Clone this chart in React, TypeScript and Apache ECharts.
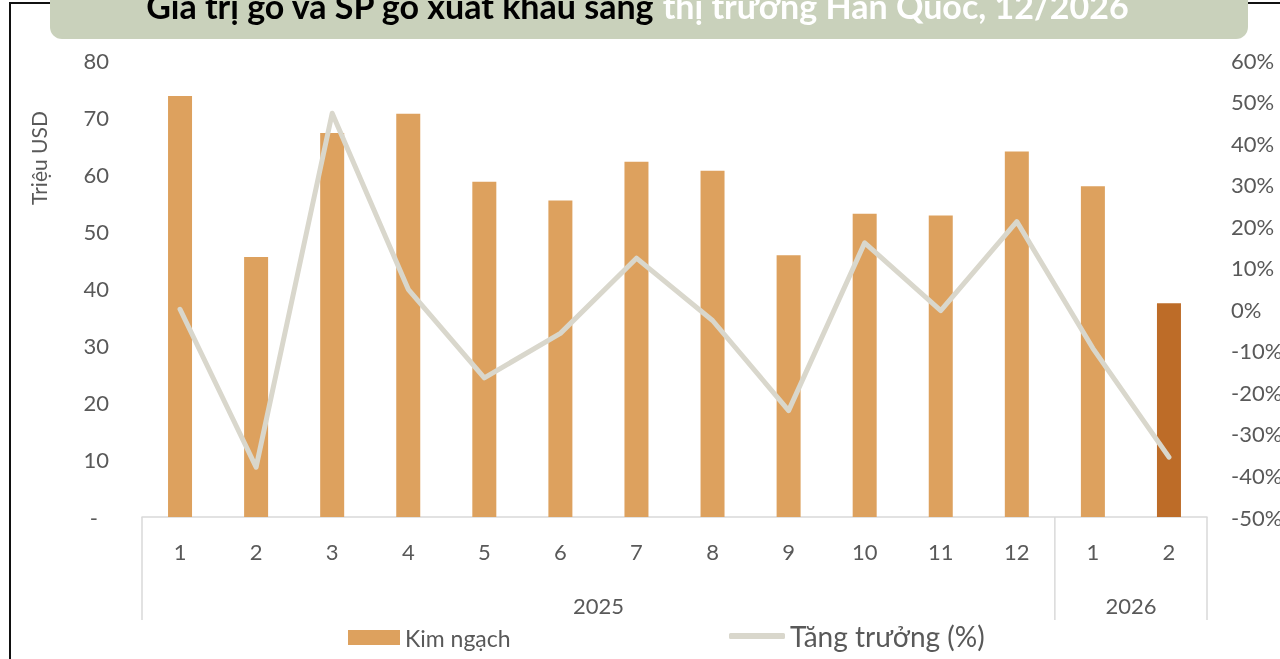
import React, { useEffect, useRef } from "react";
import * as echarts from "echarts";

const months = ["1", "2", "3", "4", "5", "6", "7", "8", "9", "10", "11", "12", "1", "2"];
const years = ["2025", "2025", "2025", "2025", "2025", "2025", "2025", "2025", "2025", "2025", "2025", "2025", "2026", "2026"];
const kimNgach = [73.7, 45.5, 67.2, 70.6, 58.7, 55.4, 62.2, 60.6, 45.8, 53.1, 52.8, 64.0, 57.9, 37.4];
const tangTruong = [0.0, -38.0, 47.2, 4.8, -16.5, -5.8, 12.3, -2.7, -24.4, 16.0, -0.3, 21.1, -9.4, -35.6];
const highlightIndex = 13;
const yearGroups = ["2025", "2026"];

const FONT = "Lato, 'Noto Sans', sans-serif";
const TEXT = "#595959";
const BAR = "#DDA15E";
const BAR_DARK = "#BD6C28";
const LINE = "#D9D7CC";

export default function App() {
  const ref = useRef<HTMLDivElement>(null);
  useEffect(() => {
    if (!ref.current) return;
    const chart = echarts.init(ref.current, undefined, { renderer: "svg" });
    const categories = months.map((m, i) => `${m}/${years[i]}`);
    chart.setOption({
      animation: false,
      textStyle: { fontFamily: FONT },
      grid: {
        left: 142,
        right: 73,
        top: 60,
        bottom: 142,
        containLabel: false,
        outerBoundsMode: "none",
      },
      legend: [
        {
          data: [{ name: "Kim ngạch" }],
          left: 343,
          top: 621,
          itemWidth: 52,
          itemHeight: 15,
          icon: "rect",
          itemGap: 5,
          textStyle: { fontSize: 23, color: TEXT, fontFamily: FONT },
        },
        {
          data: [{ name: "Tăng trưởng (%)", itemStyle: { color: LINE } }],
          left: 724,
          top: 617,
          itemWidth: 56,
          itemHeight: 6,
          icon: "roundRect",
          textStyle: { fontSize: 28, color: TEXT, fontFamily: FONT },
        },
      ],
      xAxis: {
        type: "category",
        data: categories,
        axisLine: { lineStyle: { color: "#D9D9D9", width: 1.5 } },
        axisTick: { show: false },
        axisLabel: {
          formatter: (v: string) => v.split("/")[0],
          fontSize: 22,
          color: TEXT,
          margin: 23,
          fontFamily: FONT,
        },
        splitLine: { show: false },
      },
      yAxis: [
        {
          type: "value",
          min: 0,
          max: 80,
          interval: 10,
          axisLine: { show: false },
          axisTick: { show: false },
          splitLine: { show: false },
          axisLabel: {
            fontSize: 22,
            color: TEXT,
            margin: 33,
            fontFamily: FONT,
            formatter: (v: number) => (v === 0 ? "{d|-}" : String(v)),
            rich: { d: { fontSize: 22, color: TEXT, fontFamily: FONT, padding: [0, 11, 0, 0] } },
          },
        },
        {
          type: "value",
          min: -50,
          max: 60,
          interval: 10,
          axisLine: { show: false },
          axisTick: { show: false },
          splitLine: { show: false },
          axisLabel: {
            fontSize: 22,
            color: TEXT,
            margin: 24,
            fontFamily: FONT,
            formatter: (v: number) => `${v}%`,
          },
        },
      ],
      series: [
        {
          name: "Kim ngạch",
          type: "bar",
          barWidth: 24,
          itemStyle: { color: BAR },
          data: kimNgach.map((v, i) =>
            i === highlightIndex ? { value: v, itemStyle: { color: BAR_DARK } } : v
          ),
          z: 2,
        },
        {
          name: "Tăng trưởng (%)",
          type: "line",
          yAxisIndex: 1,
          data: tangTruong,
          showSymbol: false,
          symbol: "none",
          itemStyle: { color: LINE },
          lineStyle: { color: LINE, width: 5, cap: "round", join: "round" },
          z: 3,
        },
      ],
    });

    // category group frame from the axis scale
    const px = (i: number) => chart.convertToPixel({ xAxisIndex: 0 }, i) as number;
    const band = px(1) - px(0);
    const axisY = chart.convertToPixel({ yAxisIndex: 0 }, 0) as number;
    const groupEls: any[] = [];
    const bounds: number[] = [];
    yearGroups.forEach((y) => {
      const idx = years.map((yy, i) => (yy === y ? i : -1)).filter((i) => i >= 0);
      const first = idx[0];
      const last = idx[idx.length - 1];
      const left = px(first) - band / 2;
      const right = px(last) + band / 2;
      bounds.push(left);
      if (y === yearGroups[yearGroups.length - 1]) bounds.push(right);
      groupEls.push({
        type: "text",
        style: {
          text: y,
          x: (px(first) + px(last)) / 2,
          y: axisY + 88,
          align: "center",
          verticalAlign: "middle",
          fontSize: 22,
          fontFamily: FONT,
          fill: TEXT,
        },
      });
    });
    bounds.forEach((b) => {
      groupEls.push({
        type: "line",
        shape: { x1: b, y1: axisY, x2: b, y2: axisY + 103 },
        style: { stroke: "#D9D9D9", lineWidth: 1.5 },
      });
    });

    chart.setOption({
      graphic: [
        {
          type: "rect",
          shape: { x: 10, y: 3, width: 1320, height: 720 },
          style: { fill: "none", stroke: "#111", lineWidth: 2 },
          z: 0,
        },
        {
          type: "rect",
          shape: { x: 50, y: -30, width: 1198, height: 69, r: 12 },
          style: { fill: "#C9D1BB" },
          z: 1,
        },
        {
          type: "text",
          z: 2,
          style: {
            text: "{a|Giá trị gỗ và SP gỗ xuất khẩu sang }{b|thị trường Hàn Quốc, 12/2026}",
            x: 637,
            y: 5,
            align: "center",
            verticalAlign: "middle",
            rich: {
              a: { fill: "#000", fontSize: 34, fontWeight: "bold", fontFamily: FONT },
              b: { fill: "#fff", fontSize: 34, fontWeight: "bold", fontFamily: FONT },
            },
          },
        },
        {
          type: "text",
          rotation: Math.PI / 2,
          x: 38,
          y: 158,
          style: {
            text: "Triệu USD",
            x: 0,
            y: 0,
            align: "center",
            verticalAlign: "middle",
            fontSize: 21,
            fontFamily: FONT,
            fill: TEXT,
          },
        },
        ...groupEls,
      ],
    });

    return () => chart.dispose();
  }, []);
  return (
    <div
      ref={ref}
      style={{ position: "fixed", left: 0, top: 0, width: 1280, height: 659 }}
    />
  );
}
